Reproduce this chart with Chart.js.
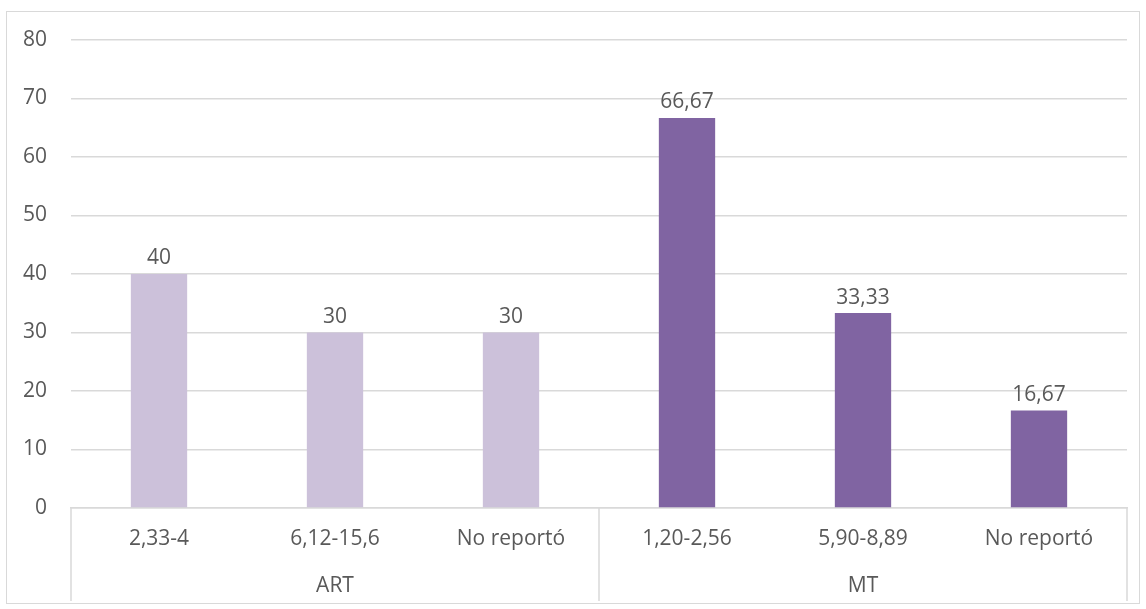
<!DOCTYPE html>
<html>
<head>
<meta charset="utf-8">
<script src="https://cdn.jsdelivr.net/npm/chart.js@4"></script>
<style>
  html, body { margin: 0; padding: 0; background: #ffffff; }
  #wrap {
    position: absolute; left: 6px; top: 11px;
    width: 1132px; height: 591px;
    border: 1px solid #d9d9d9;
  }
  canvas { display: block; }
</style>
</head>
<body>
<div id="wrap"><canvas id="grafico" width="1132" height="591"></canvas></div>
<script>
// dati
const categorie = ["2,33-4", "6,12-15,6", "No reportó", "1,20-2,56", "5,90-8,89", "No reportó"];
const valori = [40, 30, 30, 66.67, 33.33, 16.67];
const gruppi = ["ART", "MT"];
const dimGruppi = [3, 3];
const yTicks = [0, 10, 20, 30, 40, 50, 60, 70, 80];

const colori = {
  chiaro: "#ccc1da",
  scuro: "#8064a2",
  testo: "#595959",
  griglia: "#d9d9d9",
};
const font = "'Open Sans', sans-serif";

const coloriBarre = categorie.map((c, i) => (i < dimGruppi[0] ? colori.chiaro : colori.scuro));

// etichette con i valori sopra le barre
const etichetteValori = {
  id: "etichetteValori",
  afterDatasetsDraw(chart) {
    const ctx = chart.ctx;
    const meta = chart.getDatasetMeta(0);
    ctx.save();
    ctx.font = "21px " + font;
    ctx.fillStyle = colori.testo;
    ctx.textAlign = "center";
    ctx.textBaseline = "bottom";
    meta.data.forEach((bar, i) => {
      const txt = String(valori[i]).replace(".", ",");
      ctx.fillText(txt, bar.x, bar.y - 5);
    });
    ctx.restore();
  },
};

// asse a due livelli: gruppi e divisori
const assiGruppi = {
  id: "assiGruppi",
  afterDraw(chart) {
    const ctx = chart.ctx;
    const x = chart.scales.x;
    const area = chart.chartArea;
    const passo = x.getPixelForValue(1) - x.getPixelForValue(0);
    ctx.save();
    ctx.strokeStyle = colori.griglia;
    ctx.lineWidth = 1.5;
    ctx.font = "21px " + font;
    ctx.fillStyle = colori.testo;
    ctx.textAlign = "center";
    ctx.textBaseline = "middle";
    let inizio = 0;
    const bordi = [x.getPixelForValue(0) - passo / 2];
    gruppi.forEach((g, gi) => {
      const fine = inizio + dimGruppi[gi] - 1;
      const sx = x.getPixelForValue(inizio) - passo / 2;
      const dx = x.getPixelForValue(fine) + passo / 2;
      bordi.push(dx);
      ctx.fillText(g, (sx + dx) / 2, area.bottom + 78);
      inizio = fine + 1;
    });
    bordi.forEach((bx) => {
      ctx.beginPath();
      ctx.moveTo(bx, area.bottom);
      ctx.lineTo(bx, area.bottom + 93);
      ctx.stroke();
    });
    ctx.restore();
  },
};

new Chart(document.getElementById("grafico"), {
  type: "bar",
  data: {
    labels: categorie,
    datasets: [{
      data: valori,
      backgroundColor: coloriBarre,
      categoryPercentage: 1,
      barPercentage: 0.32,
    }],
  },
  options: {
    responsive: false,
    animation: false,
    layout: { padding: { top: 28, right: 12, bottom: 0, left: 0 } },
    plugins: {
      legend: { display: false },
      tooltip: { enabled: false },
    },
    scales: {
      x: {
        offset: true,
        grid: { display: false },
        border: { color: colori.griglia, width: 1.5 },
        ticks: {
          color: colori.testo,
          font: { family: font, size: 21 },
          padding: 10,
          maxRotation: 0,
        },
        afterFit(scale) { scale.height = 95; },
      },
      y: {
        min: 0,
        max: 80,
        afterBuildTicks(scale) { scale.ticks = yTicks.map((v) => ({ value: v })); },
        grid: { color: colori.griglia, lineWidth: 1.5, drawTicks: false },
        border: { display: false },
        ticks: {
          color: colori.testo,
          font: { family: font, size: 21 },
          padding: 24,
        },
        afterFit(scale) {
          scale.width = 64;
          scale.paddingTop = 0;
          scale.paddingBottom = 0;
        },
      },
    },
  },
  plugins: [etichetteValori, assiGruppi],
});
</script>
</body>
</html>
